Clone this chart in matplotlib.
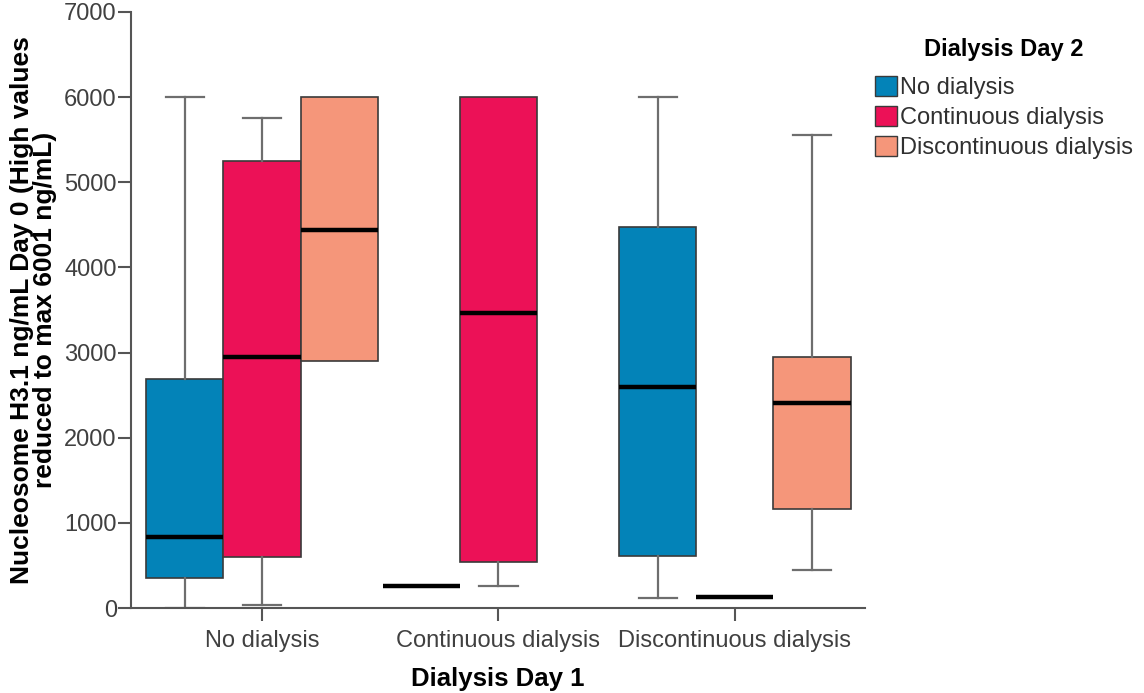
import matplotlib
matplotlib.use("Agg")
import matplotlib.pyplot as plt
from matplotlib.patches import Patch

plt.rcParams['font.family'] = ['Liberation Sans', 'DejaVu Sans']

# Categories
day1_labels = ["No dialysis", "Continuous dialysis", "Discontinuous dialysis"]
day2_labels = ["No dialysis", "Continuous dialysis", "Discontinuous dialysis"]
day2_colors = ["#0383B8", "#EC1157", "#F5967A"]

# Box statistics per Day 2 series, one value per Day 1 category (None = no cases)
no_dial_low    = [0,    262,  115]
no_dial_q1     = [355,  262,  615]
no_dial_med    = [835,  262,  2590]
no_dial_q3     = [2685, 262,  4480]
no_dial_high   = [6000, 262,  6000]

cont_dial_low  = [40,   262,  135]
cont_dial_q1   = [605,  545,  135]
cont_dial_med  = [2945, 3460, 135]
cont_dial_q3   = [5245, 6000, 135]
cont_dial_high = [5760, 6000, 135]

disc_dial_low  = [2905, None, 450]
disc_dial_q1   = [2905, None, 1160]
disc_dial_med  = [4440, None, 2410]
disc_dial_q3   = [6000, None, 2945]
disc_dial_high = [6000, None, 5550]

series = [
    (no_dial_low, no_dial_q1, no_dial_med, no_dial_q3, no_dial_high),
    (cont_dial_low, cont_dial_q1, cont_dial_med, cont_dial_q3, cont_dial_high),
    (disc_dial_low, disc_dial_q1, disc_dial_med, disc_dial_q3, disc_dial_high),
]

fig = plt.figure(figsize=(11.44, 6.93), dpi=100)
ax = fig.add_axes([0.1143, 0.1226, 0.6418, 0.8601])

box_w = 0.326
offsets = [-box_w, 0.0, box_w]
axis_gray = "#555555"
whisk_gray = "#6e6e6e"

for s_idx, (lo, q1, med, q3, hi) in enumerate(series):
    for g in range(len(day1_labels)):
        if med[g] is None:
            continue
        st = dict(whislo=lo[g], q1=q1[g], med=med[g], q3=q3[g], whishi=hi[g], fliers=[])
        pos = g + offsets[s_idx]
        res = ax.bxp([st], positions=[pos], widths=box_w, patch_artist=True,
                     showfliers=False,
                     boxprops=dict(facecolor=day2_colors[s_idx], edgecolor="#3a3a3a", linewidth=1.2),
                     medianprops=dict(color="black", linewidth=3.2, solid_capstyle="butt"),
                     whiskerprops=dict(color=whisk_gray, linewidth=1.6),
                     capprops=dict(color=whisk_gray, linewidth=1.6))
        # hide zero-length whiskers and their caps
        if lo[g] == q1[g]:
            res["whiskers"][0].set_visible(False)
            res["caps"][0].set_visible(False)
        if hi[g] == q3[g]:
            res["whiskers"][1].set_visible(False)
            res["caps"][1].set_visible(False)
        if q1[g] == q3[g]:
            res["boxes"][0].set_visible(False)

ax.set_xlim(-0.555, 2.55)
ax.set_ylim(0, 7000)
ax.set_yticks(range(0, 7001, 1000))
ax.set_xticks(range(len(day1_labels)))
ax.set_xticklabels(day1_labels)

for side in ("top", "right"):
    ax.spines[side].set_visible(False)
for side in ("left", "bottom"):
    ax.spines[side].set_color(axis_gray)
    ax.spines[side].set_linewidth(1.5)

ax.tick_params(axis="both", direction="out", length=9.5, width=1.5, color=axis_gray,
               labelsize=17, labelcolor="#404040")
ax.tick_params(axis="y", pad=0.5)
ax.tick_params(axis="x", pad=6)

ax.set_ylabel("Nucleosome H3.1 ng/mL Day 0 (High values\nreduced to max 6001 ng/mL)",
              fontsize=19, fontweight="bold", labelpad=5, linespacing=0.95)
ax.set_xlabel("Dialysis Day 1", fontsize=18.5, fontweight="bold", labelpad=11)

handles = [Patch(facecolor=c, edgecolor="#3a3a3a", linewidth=1.0) for c in day2_colors]
leg = fig.legend(handles, day2_labels, title="Dialysis Day 2", loc="upper left",
                 bbox_to_anchor=(0.765, 0.945), frameon=False, fontsize=17,
                 title_fontproperties=dict(weight="bold", size=17),
                 handlelength=0.92, handleheight=0.92, handletextpad=0.12,
                 labelspacing=0.28, borderaxespad=0, borderpad=0)
leg._legend_box.sep = 11
for t in leg.get_texts():
    t.set_color("#303030")

fig.savefig("out.png", dpi=100)
